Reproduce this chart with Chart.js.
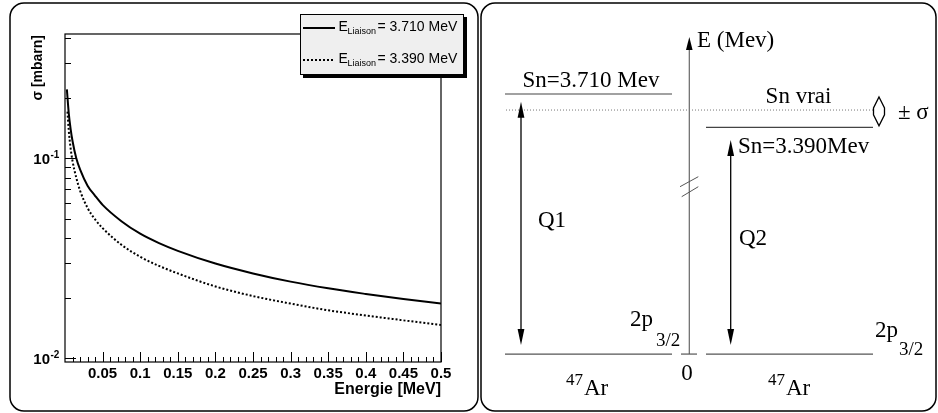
<!DOCTYPE html>
<html>
<head>
<meta charset="utf-8">
<script src="https://cdn.jsdelivr.net/npm/chart.js@4.4.1/dist/chart.umd.min.js"></script>
<style>
  html, body { margin: 0; padding: 0; background: #fff; }
  #wrap { position: relative; width: 938px; height: 413px; }
  #left { position: absolute; left: 0; top: 0; }
  #right { position: absolute; left: 480px; top: 0; }
</style>
</head>
<body>
<div id="wrap">
  <canvas id="left" width="480" height="413" style="width:480px;height:413px"></canvas>
  <canvas id="right" width="458" height="413" style="width:458px;height:413px"></canvas>
</div>
<script>
// --- cross-section curves ---
const energyA = [0.0025, 0.005, 0.0075, 0.01, 0.015, 0.02, 0.03, 0.04, 0.05, 0.075, 0.1, 0.125, 0.15, 0.2, 0.25, 0.3, 0.35, 0.4, 0.45, 0.5];
const sigmaA  = [0.221, 0.168, 0.140, 0.122, 0.100, 0.088, 0.073, 0.065, 0.0585, 0.0485, 0.0420, 0.0377, 0.0345, 0.0298, 0.0266, 0.0242, 0.0224, 0.0210, 0.0198, 0.0188];
const energyB = [0.0033, 0.005, 0.0075, 0.01, 0.015, 0.02, 0.03, 0.04, 0.05, 0.075, 0.1, 0.125, 0.15, 0.2, 0.25, 0.3, 0.35, 0.4, 0.45, 0.5];
const sigmaB  = [0.171, 0.138, 0.112, 0.097, 0.080, 0.069, 0.0565, 0.0495, 0.0448, 0.0370, 0.0322, 0.0290, 0.0266, 0.0229, 0.0205, 0.0188, 0.0174, 0.0164, 0.0155, 0.0147];
const seriesLabels = ['= 3.710 MeV', '= 3.390 MeV'];

const xMajorTicks = [0.05, 0.1, 0.15, 0.2, 0.25, 0.3, 0.35, 0.4, 0.45, 0.5];
const xTickLabels = ['0.05', '0.1', '0.15', '0.2', '0.25', '0.3', '0.35', '0.4', '0.45', '0.5'];
const yDecades = [0.01, 0.1];
const yDecadeExp = ['-2', '-1'];

// --- level scheme (MeV) ---
const levelEnergies = [3.710, 3.556, 3.390];   // Sn=3.710, Sn vrai, Sn=3.390
const levelLabels = ['Sn=3.710 Mev', 'Sn vrai', 'Sn=3.390Mev'];
const groundPos = 1.212;  // where E=0 sits below the axis break
const arrowEnds = [3.636, 3.268];   // tops of Q1, Q2

const SANS = '"Liberation Sans", Arial, sans-serif';
const SERIF = '"Liberation Serif", "Times New Roman", serif';

const pts = (xs, ys) => xs.map((x, i) => ({ x: x, y: ys[i] }));

// --- left panel decorations: frame, inward ticks, labels, legend ---
const leftDecor = {
    id: 'leftDecor',
    afterDraw(chart) {
        const ctx = chart.ctx;
        const { left, right, top, bottom } = chart.chartArea;
        const xs = chart.scales.x, ys = chart.scales.y;
        ctx.save();
        ctx.strokeStyle = '#000';
        ctx.fillStyle = '#000';

        // panel border
        ctx.lineWidth = 1.5;
        ctx.beginPath();
        ctx.roundRect(10, 3, 468, 408, 14);
        ctx.stroke();

        // frame
        ctx.lineWidth = 1.2;
        ctx.strokeRect(left, top, right - left, bottom - top);

        // x ticks
        ctx.lineWidth = 1;
        ctx.beginPath();
        for (let i = 1; i <= 50; i++) {
            const px = Math.round(xs.getPixelForValue(i / 100)) + 0.5;
            const len = i % 5 === 0 ? 10 : 5;
            ctx.moveTo(px, bottom);
            ctx.lineTo(px, bottom - len);
        }
        // y ticks
        yDecades.forEach(d => {
            for (let m = 1; m <= 9; m++) {
                const v = m * d;
                if (v < ys.min || v > ys.max) continue;
                const py = Math.round(ys.getPixelForValue(v)) + 0.5;
                ctx.moveTo(left, py);
                ctx.lineTo(left + (m === 1 ? 11 : 6), py);
            }
        });
        ctx.stroke();

        // x tick labels
        ctx.font = 'bold 15px ' + SANS;
        ctx.textAlign = 'center';
        ctx.textBaseline = 'alphabetic';
        xMajorTicks.forEach((v, i) => {
            ctx.fillText(xTickLabels[i], xs.getPixelForValue(v), 378);
        });

        // y tick labels 10^n
        yDecades.forEach((d, i) => {
            const py = ys.getPixelForValue(d);
            ctx.font = 'bold 15px ' + SANS;
            ctx.textAlign = 'right';
            ctx.fillText('10', 50, py + 5.5);
            ctx.font = 'bold 10px ' + SANS;
            ctx.textAlign = 'left';
            ctx.fillText(yDecadeExp[i], 50.5, py - 0.5);
        });

        // axis titles
        ctx.font = 'bold 16px ' + SANS;
        ctx.textAlign = 'right';
        ctx.fillText('Energie [MeV]', right, 394);
        ctx.save();
        ctx.translate(42, top + 1);
        ctx.rotate(-Math.PI / 2);
        ctx.font = 'bold 14px ' + SANS;
        ctx.fillText('\u03c3 [mbarn]', 0, 0);
        ctx.restore();

        // legend box with shadow
        ctx.fillStyle = '#000';
        ctx.fillRect(303, 17, 164, 61);
        ctx.fillStyle = '#efefef';
        ctx.fillRect(300, 14, 164, 61);
        ctx.lineWidth = 1;
        ctx.strokeRect(300.5, 14.5, 163, 60);

        chart.data.datasets.forEach((ds, i) => {
            const ly = i === 0 ? 28 : 60;
            ctx.strokeStyle = '#000';
            ctx.lineWidth = 2;
            ctx.setLineDash(ds.borderDash || []);
            ctx.beginPath();
            ctx.moveTo(303, ly);
            ctx.lineTo(335, ly);
            ctx.stroke();
            ctx.setLineDash([]);
            ctx.fillStyle = '#000';
            ctx.textAlign = 'left';
            ctx.font = '14px ' + SANS;
            ctx.fillText('E', 338.5, ly + 3);
            ctx.font = '9px ' + SANS;
            ctx.fillText('Liaison', 347.5, ly + 6);
            ctx.font = '14px ' + SANS;
            ctx.fillText(seriesLabels[i], 377.5, ly + 3);
        });
        ctx.restore();
    }
};

new Chart(document.getElementById('left'), {
    type: 'line',
    data: {
        datasets: [
            {
                label: 'E_Liaison ' + seriesLabels[0],
                data: pts(energyA, sigmaA),
                borderColor: '#000',
                borderWidth: 2,
                pointRadius: 0,
                cubicInterpolationMode: 'monotone'
            },
            {
                label: 'E_Liaison ' + seriesLabels[1],
                data: pts(energyB, sigmaB),
                borderColor: '#000',
                borderWidth: 2,
                borderDash: [2, 2],
                pointRadius: 0,
                cubicInterpolationMode: 'monotone'
            }
        ]
    },
    options: {
        responsive: false,
        animation: false,
        layout: { padding: { left: 65, top: 34, right: 39, bottom: 51 } },
        plugins: { legend: { display: false }, tooltip: { enabled: false } },
        scales: {
            x: { type: 'linear', min: 0, max: 0.5, display: false },
            y: { type: 'logarithmic', min: 0.0096, max: 0.418, display: false }
        }
    },
    plugins: [leftDecor]
});

// --- right panel: level diagram ---
const pos = { lFrom: 25, lTo: 192, rFrom: 226, rTo: 393, axisX: 209.3, q1X: 41, q2X: 250.7, pmX: 399 };
const axisTop = 4.258;
const arrowBottom = 1.298;

const seg = (x1, y1, x2, y2, color, width, dash) => ({
    data: [{ x: x1, y: y1 }, { x: x2, y: y2 }],
    showLine: true,
    borderColor: color,
    borderWidth: width,
    borderDash: dash || [],
    pointRadius: 0
});

const rightDecor = {
    id: 'rightDecor',
    afterDraw(chart) {
        const ctx = chart.ctx;
        const xs = chart.scales.x, ys = chart.scales.y;
        const X = v => xs.getPixelForValue(v);
        const Y = v => ys.getPixelForValue(v);
        ctx.save();

        // panel border
        ctx.strokeStyle = '#000';
        ctx.lineWidth = 1.5;
        ctx.beginPath();
        ctx.roundRect(1, 3, 455, 408, 14);
        ctx.stroke();

        // filled arrow heads
        const head = (x, yTip, dir, len, hw) => {
            ctx.beginPath();
            ctx.moveTo(x, yTip);
            ctx.lineTo(x - hw, yTip + dir * len);
            ctx.lineTo(x + hw, yTip + dir * len);
            ctx.closePath();
            ctx.fill();
        };
        ctx.fillStyle = '#000';
        head(X(pos.axisX), Y(axisTop), 1, 13, 3.3);
        head(X(pos.q1X), Y(arrowEnds[0]), 1, 16, 3.4);
        head(X(pos.q1X), Y(arrowBottom), -1, 16, 3.4);
        head(X(pos.q2X), Y(arrowEnds[1]), 1, 16, 3.4);
        head(X(pos.q2X), Y(arrowBottom), -1, 16, 3.4);

        // axis break marks
        ctx.strokeStyle = '#555';
        ctx.lineWidth = 1;
        ctx.beginPath();
        ctx.moveTo(200, 186.7); ctx.lineTo(218.3, 176.7);
        ctx.moveTo(201.7, 196.7); ctx.lineTo(218.3, 186.7);
        ctx.stroke();

        // +/- sigma open double arrow
        const pmTop = Y(levelEnergies[0]) + 3, pmBot = Y(levelEnergies[2]) - 1.5;
        const px = X(pos.pmX);
        ctx.strokeStyle = '#000';
        ctx.lineWidth = 1.3;
        ctx.beginPath();
        ctx.moveTo(px, pmTop);
        ctx.lineTo(px + 5.5, pmTop + 11);
        ctx.lineTo(px + 5.5, pmBot - 11);
        ctx.lineTo(px, pmBot);
        ctx.lineTo(px - 5.5, pmBot - 11);
        ctx.lineTo(px - 5.5, pmTop + 11);
        ctx.closePath();
        ctx.stroke();

        // text
        ctx.fillStyle = '#000';
        ctx.textBaseline = 'alphabetic';
        ctx.font = '23px ' + SERIF;
        ctx.textAlign = 'left';
        ctx.fillText('E (Mev)', 217, Y(axisTop) + 10);
        ctx.textAlign = 'center';
        ctx.fillText(levelLabels[0], 111, Y(levelEnergies[0]) - 7);
        ctx.fillText(levelLabels[1], 318.5, Y(levelEnergies[1]) - 7);
        ctx.textAlign = 'left';
        ctx.fillText('\u00b1 \u03c3', 418, Y(levelEnergies[1]) + 9);
        ctx.fillText(levelLabels[2], 258, Y(levelEnergies[2]) + 25.5);
        ctx.fillText('Q1', 58, 227);
        ctx.fillText('Q2', 259, 244.5);
        ctx.textAlign = 'center';
        ctx.fillText('0', 207, Y(groundPos) + 26);

        ctx.textAlign = 'left';
        const gy = Y(groundPos);
        // 2p 3/2 labels
        ctx.font = '23px ' + SERIF;
        ctx.fillText('2p', 150, gy - 28);
        ctx.fillText('2p', 395, gy - 17);
        ctx.font = '19px ' + SERIF;
        ctx.fillText('3/2', 176, gy - 8);
        ctx.fillText('3/2', 419, gy + 0.5);
        // 47Ar labels
        [83, 285].forEach(x0 => {
            ctx.font = '17px ' + SERIF;
            ctx.fillText('47', x0 + 3, gy + 31);
            ctx.font = '23px ' + SERIF;
            ctx.fillText('Ar', x0 + 21, gy + 41);
        });
        ctx.restore();
    }
};

new Chart(document.getElementById('right'), {
    type: 'scatter',
    data: {
        datasets: [
            seg(pos.lFrom, levelEnergies[0], pos.lTo, levelEnergies[0], '#444', 1.2),
            seg(pos.lFrom + 1, levelEnergies[1], pos.rTo, levelEnergies[1], '#777', 1, [1, 2]),
            seg(pos.rFrom, levelEnergies[2], pos.rTo, levelEnergies[2], '#444', 1.2),
            seg(pos.lFrom, groundPos, pos.lTo, groundPos, '#555', 1.2),
            seg(pos.lTo + 9, groundPos, pos.lTo + 25, groundPos, '#555', 1.2),
            seg(pos.rFrom, groundPos, pos.rTo, groundPos, '#555', 1.2),
            seg(pos.axisX, groundPos, pos.axisX, axisTop - 0.05, '#666', 1.2),
            seg(pos.q1X, arrowBottom + 0.1, pos.q1X, arrowEnds[0] - 0.1, '#000', 1.3),
            seg(pos.q2X, arrowBottom + 0.1, pos.q2X, arrowEnds[1] - 0.1, '#000', 1.3)
        ]
    },
    options: {
        responsive: false,
        animation: false,
        layout: { padding: 0 },
        plugins: { legend: { display: false }, tooltip: { enabled: false } },
        scales: {
            x: { type: 'linear', min: 0, max: 458, display: false },
            y: { type: 'linear', min: 0.646, max: 4.613, display: false }
        }
    },
    plugins: [rightDecor]
});
</script>
</body>
</html>
